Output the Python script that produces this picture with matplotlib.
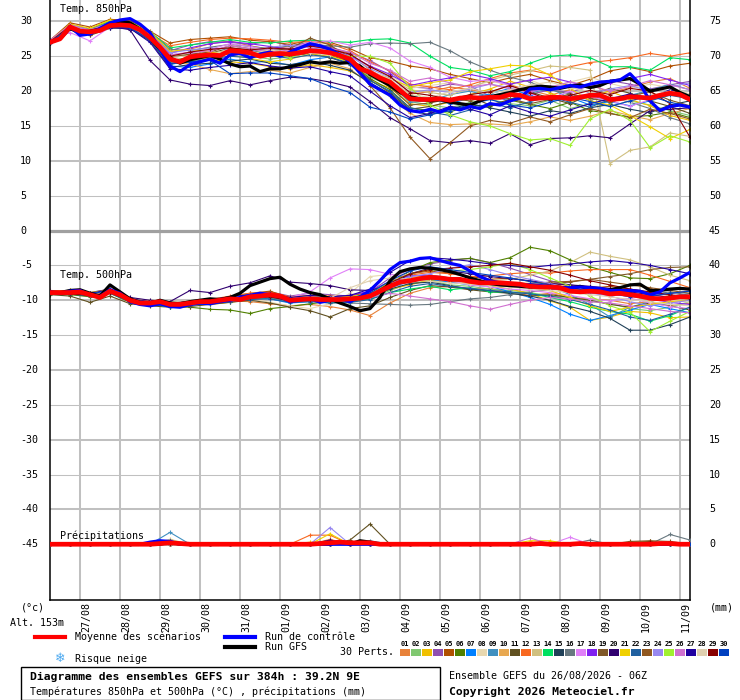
import matplotlib
matplotlib.use("Agg")
import matplotlib.pyplot as plt
from matplotlib.lines import Line2D
from matplotlib.patches import Rectangle
from matplotlib.transforms import blended_transform_factory

plt.rcParams['font.family'] = ['DejaVu Sans Mono', 'DejaVu Sans']
plt.rcParams['font.size'] = 7.2

# ---------------- data ----------------
hours6 = list(range(0, 385, 6))      # 65 steps (mean / control / GFS)
hours12 = list(range(0, 385, 12))    # 33 steps (30 perturbations)

date_hours = [18, 42, 66, 90, 114, 138, 162, 186, 210, 234, 258, 282, 306, 330, 354, 378]
date_labels = ['27/08', '28/08', '29/08', '30/08', '31/08', '01/09', '02/09', '03/09',
               '04/09', '05/09', '06/09', '07/09', '08/09', '09/09', '10/09', '11/09']
left_ticks = [30, 25, 20, 15, 10, 5, 0, -5, -10, -15, -20, -25, -30, -35, -40, -45]
right_ticks = [75, 70, 65, 60, 55, 50, 45, 40, 35, 30, 25, 20, 15, 10, 5, 0]

pert_labels = ['01', '02', '03', '04', '05', '06', '07', '08', '09', '10',
               '11', '12', '13', '14', '15', '16', '17', '18', '19', '20',
               '21', '22', '23', '24', '25', '26', '27', '28', '29', '30']
pert_colors = ['#e8823a', '#80c870', '#f0c000', '#9050b0', '#b05000', '#508000',
               '#0080ff', '#e8d8b0', '#4090c0', '#e8a850', '#605020', '#f86820',
               '#d0c080', '#00e060', '#204058', '#687880', '#e080f8', '#8020f0',
               '#805828', '#300070', '#f0d000', '#2060a0', '#905820', '#9888f0',
               '#a0f030', '#d070d0', '#2000a0', '#e0d0b0', '#880000', '#0040c0']

# Temperature 850 hPa
t850_mean = [27.0, 27.5, 29.2, 28.6, 28.5, 28.7, 29.4, 29.5, 29.4, 28.8, 27.7, 26.3,
             24.6, 24.2, 24.9, 25.1, 25.2, 25.1, 25.8, 25.7, 25.5, 25.0, 25.3, 25.4,
             25.3, 25.5, 25.8, 25.7, 25.5, 25.1, 24.6, 23.2, 22.7, 21.9, 21.3, 20.1,
             18.9, 18.8, 18.8, 18.9, 18.7, 19.0, 19.1, 19.0, 19.1, 19.1, 19.5, 19.4,
             18.9, 19.0, 19.1, 19.1, 18.9, 19.1, 19.4, 19.4, 18.8, 18.9, 19.2, 19.1,
             19.0, 19.4, 19.7, 19.5, 18.8]
t850_ctrl = [27.0, 27.6, 29.3, 28.0, 28.2, 29.0, 29.8, 30.2, 30.4, 29.6, 28.4, 26.0,
             23.6, 22.8, 23.8, 24.2, 24.6, 24.0, 25.2, 25.4, 24.8, 25.3, 25.6, 25.0,
             25.6, 26.2, 26.8, 26.5, 26.0, 25.2, 24.2, 22.6, 21.0, 20.2, 19.4, 18.0,
             17.2, 17.0, 17.4, 17.0, 17.6, 17.3, 17.8, 17.5, 18.2, 18.0, 18.6, 19.0,
             20.3, 20.4, 20.2, 20.5, 20.8, 20.6, 21.0, 21.3, 21.4, 21.6, 22.5, 21.0,
             18.6, 17.2, 17.8, 18.0, 17.7]
t850_gfs = [27.0, 27.5, 29.0, 28.3, 28.6, 28.9, 29.6, 30.0, 29.8, 28.9, 27.6, 26.0,
            24.8, 24.0, 24.5, 24.8, 25.1, 24.6, 23.9, 23.5, 23.6, 22.8, 23.2, 23.2,
            23.5, 23.8, 24.2, 24.0, 24.2, 24.0, 24.1, 23.6, 22.4, 21.6, 20.8, 19.8,
            19.2, 18.9, 18.6, 18.8, 18.4, 18.2, 18.0, 18.6, 19.2, 19.5, 19.8, 20.2,
            20.5, 20.7, 20.6, 20.4, 20.7, 20.9, 20.5, 20.8, 21.4, 21.6, 21.8, 21.0,
            20.0, 20.3, 20.6, 19.8, 19.2]
t850_perts = [
    [27.2, 29.4, 28.8, 29.8, 29.6, 28.2, 25.6, 26.0, 26.8, 27.2, 26.5, 26.0, 26.4, 26.9, 26.2, 25.4, 23.0, 21.5, 19.6, 19.9, 20.6, 20.2, 19.8, 20.9, 20.1, 19.4, 20.2, 21.0, 19.8, 20.5, 21.3, 21.8, 20.4],
    [27.0, 29.0, 28.2, 29.3, 29.2, 27.4, 24.0, 24.3, 24.8, 25.5, 25.0, 24.6, 24.9, 25.5, 25.3, 24.3, 22.0, 20.8, 18.5, 18.0, 17.6, 18.4, 18.8, 18.2, 17.9, 18.7, 17.5, 18.2, 17.8, 18.6, 18.0, 17.2, 16.5],
    [27.1, 29.6, 28.9, 30.1, 29.8, 28.4, 25.3, 25.0, 24.5, 24.2, 24.0, 23.5, 23.2, 23.8, 23.4, 22.9, 21.4, 20.5, 18.2, 17.8, 18.4, 19.5, 20.3, 21.4, 20.6, 19.8, 18.5, 19.2, 20.0, 18.8, 17.9, 16.5, 15.8],
    [26.9, 29.1, 28.6, 29.6, 29.7, 28.0, 25.8, 26.6, 27.1, 27.0, 26.7, 27.2, 26.5, 27.0, 26.3, 25.5, 24.4, 22.8, 20.6, 20.4, 21.0, 20.7, 19.3, 18.6, 19.5, 20.2, 19.8, 20.8, 21.5, 21.0, 20.3, 20.9, 21.4],
    [27.3, 29.8, 29.2, 30.3, 30.1, 28.6, 26.9, 27.4, 27.6, 27.8, 27.3, 27.1, 26.7, 27.3, 27.0, 26.1, 24.8, 24.3, 23.6, 23.2, 22.4, 21.8, 21.2, 21.9, 22.4, 21.5, 20.8, 21.7, 22.9, 23.4, 22.8, 23.6, 24.0],
    [27.0, 29.3, 28.3, 29.5, 29.5, 27.8, 24.4, 24.8, 25.0, 25.8, 25.4, 25.8, 25.6, 26.0, 25.2, 24.1, 21.8, 20.2, 17.6, 17.2, 17.0, 18.0, 17.8, 18.7, 18.1, 17.5, 18.4, 17.2, 16.8, 16.3, 16.5, 17.0, 16.2],
    [27.2, 29.2, 28.4, 29.7, 29.3, 27.5, 23.6, 23.4, 23.9, 24.6, 24.1, 24.3, 23.7, 24.5, 24.9, 24.0, 22.4, 21.0, 19.2, 18.9, 18.2, 19.0, 19.6, 20.4, 19.4, 18.6, 19.1, 18.0, 18.5, 17.9, 18.6, 19.8, 18.8],
    [27.0, 29.0, 28.7, 29.4, 29.2, 27.6, 25.0, 25.5, 25.9, 26.3, 25.7, 25.2, 25.8, 26.4, 25.9, 25.0, 23.4, 22.3, 20.4, 20.8, 21.2, 20.6, 21.4, 20.9, 21.6, 20.5, 21.3, 22.0, 21.1, 20.4, 21.0, 20.5, 19.6],
    [26.9, 29.4, 28.2, 29.2, 29.0, 27.3, 23.8, 24.4, 25.1, 25.6, 25.9, 25.3, 25.0, 25.6, 25.8, 24.7, 22.6, 21.0, 18.4, 18.6, 19.5, 20.0, 19.2, 18.8, 19.7, 20.4, 19.0, 19.6, 18.3, 19.4, 20.1, 21.0, 20.2],
    [27.1, 29.3, 28.5, 29.5, 29.4, 27.9, 24.2, 23.9, 23.1, 22.5, 22.8, 23.0, 22.6, 23.4, 24.0, 23.2, 21.0, 19.3, 16.8, 15.5, 15.2, 15.3, 15.3, 15.1, 15.6, 16.3, 15.8, 16.4, 17.2, 16.5, 15.9, 16.8, 17.5],
    [27.0, 29.1, 28.0, 29.0, 29.2, 27.5, 24.8, 25.2, 25.4, 26.2, 25.9, 25.5, 25.1, 25.4, 24.8, 23.9, 21.6, 19.8, 17.4, 17.8, 18.5, 19.2, 18.0, 18.8, 19.9, 19.0, 18.2, 19.5, 20.4, 19.7, 18.6, 17.8, 16.8],
    [27.2, 29.5, 28.7, 29.9, 29.8, 28.3, 26.5, 27.0, 27.4, 27.6, 27.5, 27.3, 27.0, 27.1, 26.8, 25.8, 24.2, 22.9, 21.0, 20.6, 20.2, 20.9, 21.8, 22.6, 23.0, 22.4, 23.5, 24.1, 24.4, 24.8, 25.4, 25.0, 25.5],
    [27.0, 29.2, 28.6, 29.3, 29.3, 27.6, 24.5, 24.6, 25.4, 25.9, 25.6, 25.1, 25.4, 25.8, 25.3, 24.5, 22.8, 21.9, 20.2, 19.8, 19.4, 20.5, 21.6, 22.3, 22.9, 23.6, 23.4, 23.0, 9.6, 11.5, 12.0, 14.0, 13.5],
    [27.1, 29.5, 28.9, 30.0, 29.9, 28.5, 26.2, 26.6, 27.0, 27.4, 27.0, 26.9, 27.2, 27.3, 27.1, 27.0, 27.4, 27.5, 26.9, 25.0, 23.4, 23.0, 22.2, 22.8, 24.0, 25.0, 25.2, 24.8, 23.5, 23.5, 23.0, 24.8, 24.5],
    [26.9, 29.0, 28.3, 29.1, 29.0, 27.2, 23.4, 23.8, 24.0, 24.3, 24.6, 24.0, 23.8, 24.2, 23.7, 23.0, 21.2, 19.6, 17.2, 16.6, 17.4, 18.2, 17.6, 17.0, 16.4, 17.2, 16.8, 17.6, 18.1, 17.4, 16.9, 18.0, 18.6],
    [27.0, 29.4, 28.8, 29.9, 29.7, 28.4, 26.0, 25.8, 26.3, 26.7, 26.4, 26.1, 26.5, 26.7, 26.5, 26.3, 26.8, 26.9, 26.8, 27.0, 25.8, 24.2, 23.0, 22.0, 21.3, 20.2, 19.6, 18.7, 19.2, 18.4, 17.5, 16.2, 15.3],
    [27.4, 28.4, 27.2, 29.2, 29.0, 27.6, 25.2, 25.6, 26.0, 26.8, 26.4, 25.9, 26.2, 27.0, 27.2, 26.6, 27.0, 26.2, 24.3, 23.4, 22.0, 21.4, 21.6, 20.8, 19.6, 18.9, 20.0, 19.2, 18.6, 17.8, 18.8, 19.6, 19.0],
    [27.1, 29.3, 28.6, 29.6, 29.5, 27.9, 25.4, 26.2, 26.8, 27.1, 26.8, 26.4, 26.0, 26.6, 26.0, 25.1, 23.6, 22.4, 20.8, 21.4, 21.9, 22.4, 21.8, 21.0, 21.6, 22.0, 21.3, 20.6, 21.2, 21.8, 22.4, 21.6, 20.8],
    [26.9, 29.1, 28.4, 29.4, 29.3, 27.7, 24.9, 25.3, 25.6, 26.5, 26.1, 25.8, 26.1, 27.6, 26.6, 24.8, 22.3, 20.6, 18.0, 18.3, 18.9, 18.6, 19.4, 18.9, 18.2, 18.8, 19.6, 19.0, 18.4, 19.3, 19.9, 18.7, 17.9],
    [27.0, 29.2, 28.4, 29.3, 28.8, 24.4, 21.6, 21.0, 20.8, 21.5, 20.9, 21.5, 22.0, 21.8, 21.3, 20.6, 18.5, 16.2, 14.6, 12.9, 12.6, 12.9, 12.5, 13.9, 12.3, 13.2, 13.3, 13.6, 13.3, 15.3, 17.2, 17.4, 17.6],
    [27.2, 29.6, 29.0, 30.2, 29.9, 28.5, 25.7, 26.0, 25.6, 25.2, 24.7, 24.2, 24.6, 25.3, 25.0, 24.2, 22.5, 21.8, 20.6, 21.2, 21.6, 22.8, 23.2, 23.7, 23.6, 22.3, 20.4, 18.6, 18.0, 16.5, 14.9, 13.2, 14.5],
    [27.0, 29.2, 28.3, 29.2, 29.1, 27.3, 23.9, 24.2, 24.6, 25.0, 24.8, 25.1, 24.7, 25.2, 24.9, 23.8, 21.5, 20.0, 17.6, 17.0, 16.5, 17.3, 18.3, 17.6, 18.5, 19.2, 18.4, 17.7, 18.8, 19.5, 18.6, 19.4, 18.9],
    [27.0, 29.0, 28.1, 29.2, 29.1, 27.4, 24.3, 24.7, 24.9, 25.4, 25.2, 25.0, 25.3, 25.9, 25.4, 24.2, 20.8, 17.6, 13.4, 10.3, 12.6, 15.0, 15.8, 15.4, 16.3, 15.6, 16.6, 17.5, 16.8, 16.2, 17.4, 16.8, 16.0],
    [27.1, 29.4, 28.7, 29.7, 29.6, 28.1, 25.5, 25.9, 26.2, 26.0, 25.7, 26.3, 26.6, 26.2, 25.9, 25.0, 23.2, 22.0, 19.8, 20.2, 19.8, 20.3, 21.0, 20.5, 19.8, 20.6, 20.9, 19.7, 20.3, 20.8, 20.0, 20.6, 21.2],
    [27.1, 29.3, 28.5, 29.5, 29.5, 27.8, 24.4, 24.6, 24.9, 25.5, 25.2, 25.4, 24.8, 25.7, 25.5, 25.0, 25.0, 24.0, 20.5, 18.0, 16.6, 15.6, 15.0, 13.9, 13.0, 13.2, 12.2, 16.0, 17.4, 15.8, 11.9, 13.6, 12.7],
    [27.3, 29.5, 28.8, 29.8, 29.7, 28.0, 25.2, 25.5, 25.8, 26.5, 26.1, 25.6, 25.9, 26.4, 26.1, 25.6, 24.0, 23.0, 21.4, 21.9, 21.2, 20.6, 21.0, 20.3, 19.9, 20.6, 21.3, 20.8, 20.0, 20.7, 21.5, 20.9, 20.2],
    [26.9, 29.0, 28.2, 29.1, 29.0, 27.0, 23.2, 23.0, 23.4, 23.7, 24.1, 23.6, 23.3, 23.5, 22.8, 22.2, 20.0, 17.9, 16.2, 16.8, 17.8, 17.4, 16.6, 17.9, 17.0, 16.4, 17.3, 18.2, 18.9, 19.6, 19.0, 20.2, 19.4],
    [27.0, 29.2, 28.6, 29.4, 29.3, 27.6, 24.8, 25.1, 25.3, 25.7, 25.4, 25.9, 25.5, 25.5, 25.2, 24.6, 22.9, 21.7, 19.5, 19.1, 19.9, 20.4, 19.7, 20.2, 20.9, 21.3, 20.5, 19.9, 19.2, 18.5, 19.4, 20.0, 19.5],
    [27.1, 29.3, 28.4, 29.6, 29.5, 27.8, 25.0, 25.6, 26.0, 26.2, 25.9, 26.2, 26.0, 26.5, 26.0, 25.3, 23.5, 22.1, 19.8, 19.4, 18.8, 19.5, 19.9, 20.8, 19.8, 18.7, 19.4, 20.1, 19.5, 20.4, 20.0, 18.2, 13.4],
    [27.0, 29.1, 28.3, 29.3, 29.1, 27.4, 24.0, 24.2, 24.4, 22.5, 22.6, 22.6, 22.2, 21.8, 20.7, 19.8, 17.7, 17.0, 16.0, 16.6, 17.2, 18.1, 18.8, 18.0, 17.6, 18.4, 19.1, 18.5, 17.8, 18.6, 19.3, 18.4, 17.8],
]

# Temperature 500 hPa
t500_mean = [-8.9, -8.9, -8.9, -8.8, -9.2, -9.6, -8.7, -9.2, -10.0, -10.4, -10.4, -10.2,
             -10.6, -10.6, -10.4, -10.2, -10.2, -10.0, -9.8, -9.9, -9.5, -9.4, -9.2, -9.4,
             -10.0, -9.9, -9.8, -9.9, -9.9, -9.9, -9.8, -9.7, -9.4, -8.7, -8.0, -7.4,
             -7.2, -6.9, -6.7, -6.8, -7.0, -7.0, -7.3, -7.5, -7.5, -7.5, -7.6, -7.7,
             -8.0, -8.1, -8.1, -8.2, -8.7, -8.8, -8.7, -8.8, -9.1, -9.0, -9.2, -9.4,
             -9.7, -9.8, -9.7, -9.5, -9.5]
t500_ctrl = [-8.8, -9.0, -8.7, -8.6, -9.3, -9.5, -8.5, -9.0, -10.2, -10.6, -10.8, -10.5,
             -10.9, -11.0, -10.6, -10.4, -10.5, -10.2, -10.0, -9.6, -9.3, -9.0, -9.2, -9.5,
             -10.2, -10.0, -9.7, -10.3, -10.0, -9.8, -10.2, -9.5, -8.6, -7.2, -5.6, -4.6,
             -4.4, -4.0, -3.9, -4.3, -4.7, -5.0, -5.8, -6.6, -7.2, -7.5, -7.6, -7.8,
             -7.8, -7.9, -8.0, -8.2, -8.2, -8.1, -8.2, -8.3, -8.6, -8.6, -8.6, -8.7,
             -9.2, -8.8, -7.5, -6.8, -6.0]
t500_gfs = [-8.8, -8.9, -8.6, -8.5, -9.0, -9.4, -7.8, -8.8, -9.8, -10.3, -10.5, -10.0,
            -10.4, -10.5, -10.2, -10.0, -9.8, -9.9, -9.6, -9.0, -7.9, -7.4, -6.9, -6.7,
            -7.7, -8.4, -8.9, -9.2, -9.8, -10.4, -10.9, -11.5, -11.2, -9.6, -7.2, -5.9,
            -5.5, -5.3, -5.4, -5.6, -5.9, -6.3, -6.8, -7.2, -7.6, -7.8, -7.9, -8.0,
            -8.1, -8.1, -8.0, -8.2, -8.3, -8.0, -8.4, -8.6, -8.5, -8.2, -7.8, -7.7,
            -8.6, -8.6, -8.4, -8.3, -8.4]
t500_perts = [
    [-9.0, -8.8, -9.4, -8.9, -10.2, -10.6, -10.8, -10.6, -10.4, -10.1, -10.2, -10.5, -10.8, -10.6, -10.9, -11.4, -12.2, -10.4, -9.0, -8.2, -8.0, -8.4, -8.3, -8.9, -9.3, -9.0, -9.6, -9.8, -10.0, -10.5, -10.2, -10.8, -10.4],
    [-8.9, -9.0, -9.3, -8.8, -9.9, -10.3, -10.5, -10.3, -10.0, -9.6, -9.4, -9.5, -10.2, -10.1, -10.4, -10.3, -9.8, -8.6, -7.6, -7.2, -7.8, -8.0, -8.4, -8.6, -8.9, -9.4, -9.6, -10.2, -10.4, -11.2, -11.5, -11.0, -10.2],
    [-8.8, -8.7, -9.0, -8.5, -9.8, -10.2, -10.4, -10.5, -10.6, -10.3, -9.9, -9.6, -9.9, -10.1, -10.0, -9.7, -9.2, -8.4, -7.8, -7.1, -7.4, -7.6, -7.9, -8.4, -9.0, -10.1, -11.0, -12.9, -12.4, -11.6, -11.8, -12.5, -12.4],
    [-9.0, -9.1, -9.2, -8.6, -10.1, -10.5, -10.8, -10.6, -10.2, -9.7, -9.2, -8.8, -9.4, -9.0, -9.2, -9.4, -8.8, -6.8, -5.6, -4.8, -4.3, -4.0, -4.6, -5.4, -6.3, -7.2, -7.8, -8.2, -8.6, -9.0, -9.4, -9.1, -8.6],
    [-8.9, -8.8, -9.1, -8.7, -10.0, -10.4, -10.7, -10.4, -10.0, -9.5, -9.0, -8.7, -9.6, -9.5, -9.7, -9.3, -9.0, -7.4, -6.2, -5.8, -6.1, -6.6, -7.0, -6.8, -7.3, -7.6, -7.9, -8.3, -8.0, -8.4, -8.9, -9.3, -9.8],
    [-9.1, -9.2, -9.5, -9.0, -10.3, -10.6, -10.9, -11.0, -11.3, -11.4, -11.9, -11.2, -10.9, -10.5, -10.2, -10.0, -9.4, -7.6, -5.8, -4.6, -4.2, -4.0, -4.6, -3.9, -2.4, -2.9, -4.2, -5.2, -6.0, -6.8, -6.9, -6.2, -5.0],
    [-8.8, -8.9, -9.1, -8.6, -9.9, -10.2, -10.5, -10.3, -10.0, -9.9, -9.6, -9.8, -10.4, -10.2, -10.0, -10.1, -9.6, -8.2, -7.3, -7.0, -7.4, -7.8, -8.0, -8.8, -9.6, -10.6, -12.0, -12.9, -12.2, -11.4, -10.6, -11.2, -11.8],
    [-8.7, -8.6, -9.0, -8.4, -9.7, -10.0, -10.2, -10.1, -9.8, -9.6, -9.7, -10.3, -10.8, -11.2, -10.5, -9.0, -6.6, -6.3, -6.4, -6.8, -6.9, -7.2, -7.6, -7.4, -7.8, -8.2, -8.4, -8.2, -8.8, -9.2, -9.6, -10.0, -10.3],
    [-9.0, -8.9, -9.3, -8.8, -10.1, -10.5, -10.8, -10.5, -10.2, -9.9, -9.3, -9.1, -9.8, -9.6, -9.9, -9.6, -9.0, -7.8, -6.9, -6.6, -7.0, -7.4, -7.7, -7.9, -8.2, -8.0, -9.2, -10.6, -12.4, -11.0, -10.2, -9.4, -9.0],
    [-8.8, -8.9, -9.1, -8.7, -10.0, -10.4, -10.6, -10.5, -10.3, -9.9, -9.6, -9.4, -10.0, -9.9, -10.1, -9.9, -9.5, -7.9, -6.8, -6.4, -6.9, -7.3, -7.4, -7.5, -8.0, -8.3, -8.9, -8.6, -9.2, -9.4, -10.0, -9.6, -9.9],
    [-9.2, -9.4, -10.3, -9.4, -10.5, -10.8, -11.0, -10.9, -10.6, -10.3, -10.0, -10.4, -11.0, -11.5, -12.4, -11.2, -10.8, -9.6, -8.6, -7.9, -8.1, -8.5, -8.8, -9.0, -9.4, -9.2, -9.6, -10.0, -10.6, -11.0, -10.4, -10.8, -11.4],
    [-8.9, -9.0, -9.2, -8.8, -10.0, -10.3, -10.5, -10.2, -9.9, -9.4, -9.0, -8.9, -9.5, -9.3, -9.4, -9.5, -9.1, -7.4, -6.4, -6.0, -6.2, -6.6, -6.5, -6.2, -6.0, -6.1, -5.8, -5.6, -5.6, -5.6, -6.4, -7.3, -8.2],
    [-8.9, -8.8, -9.1, -8.7, -10.0, -10.4, -10.6, -10.4, -10.1, -9.7, -9.4, -9.2, -9.8, -9.6, -9.8, -9.6, -9.2, -7.8, -7.0, -6.6, -6.8, -7.1, -7.2, -7.0, -6.4, -5.8, -4.6, -3.1, -3.7, -4.2, -5.2, -6.4, -7.2],
    [-9.0, -9.1, -9.3, -8.9, -10.2, -10.6, -10.9, -10.7, -10.4, -10.1, -9.8, -9.6, -10.1, -10.0, -10.3, -10.2, -9.8, -8.9, -8.4, -8.0, -8.5, -8.2, -8.8, -8.9, -9.0, -9.6, -10.2, -11.0, -11.6, -12.0, -13.0, -12.2, -11.0],
    [-8.9, -9.0, -9.2, -8.8, -10.0, -10.4, -10.6, -10.5, -10.3, -10.0, -9.7, -9.5, -10.0, -9.8, -10.0, -9.9, -9.6, -8.4, -7.6, -7.4, -7.9, -8.4, -8.6, -9.0, -9.4, -10.0, -10.9, -11.6, -12.6, -14.3, -14.3, -13.5, -12.4],
    [-9.0, -8.9, -9.3, -8.9, -10.1, -10.5, -10.8, -10.6, -10.4, -10.0, -9.7, -9.6, -10.2, -10.0, -10.2, -10.4, -10.5, -10.6, -10.7, -10.6, -10.2, -9.8, -9.6, -9.2, -8.8, -8.5, -8.2, -8.6, -8.9, -9.4, -9.2, -8.8, -9.3],
    [-8.6, -8.7, -9.0, -8.5, -9.8, -10.2, -10.4, -10.2, -10.0, -9.7, -9.6, -9.4, -9.6, -8.8, -6.8, -5.5, -5.6, -6.3, -6.6, -6.9, -7.2, -7.8, -8.1, -8.4, -8.6, -8.9, -9.3, -9.8, -10.1, -9.7, -10.4, -10.9, -11.2],
    [-8.8, -8.9, -9.1, -8.6, -9.9, -10.3, -10.5, -10.3, -10.1, -9.8, -9.4, -9.1, -9.7, -9.4, -9.6, -9.3, -8.7, -7.3, -6.5, -6.4, -6.8, -7.0, -7.3, -7.7, -8.0, -8.3, -8.6, -9.0, -9.2, -9.4, -9.8, -10.3, -10.6],
    [-8.9, -9.0, -9.2, -8.8, -10.0, -10.4, -10.6, -10.4, -10.1, -9.8, -9.5, -9.3, -9.9, -9.7, -9.9, -9.8, -9.3, -8.0, -7.1, -6.8, -7.1, -7.3, -7.5, -7.6, -7.8, -7.6, -7.4, -7.0, -6.6, -6.2, -5.6, -5.3, -5.2],
    [-8.8, -8.6, -8.9, -8.4, -9.6, -10.0, -10.2, -8.6, -8.9, -8.0, -7.5, -6.5, -7.4, -7.6, -7.9, -8.5, -8.6, -7.8, -6.2, -5.4, -5.8, -6.2, -6.6, -6.9, -7.2, -7.6, -7.8, -8.0, -8.3, -8.8, -9.2, -9.6, -9.8],
    [-8.7, -8.6, -8.9, -8.5, -9.8, -10.2, -10.4, -10.2, -9.9, -9.5, -9.2, -9.0, -9.6, -9.4, -9.6, -9.5, -9.0, -7.6, -6.8, -6.5, -6.8, -7.1, -7.4, -7.6, -8.0, -8.6, -9.6, -10.8, -11.6, -11.0, -10.6, -10.2, -10.0],
    [-9.0, -9.1, -9.4, -9.0, -10.2, -10.6, -10.9, -10.7, -10.5, -10.2, -9.9, -9.8, -10.3, -10.2, -10.4, -10.3, -9.9, -8.9, -8.0, -7.6, -8.0, -8.3, -8.6, -8.8, -9.1, -9.4, -9.9, -10.6, -11.4, -12.4, -12.9, -12.0, -11.0],
    [-8.9, -9.0, -9.2, -8.8, -10.1, -10.5, -10.7, -10.5, -10.3, -9.9, -9.6, -9.4, -10.0, -9.8, -10.0, -9.8, -9.4, -8.0, -7.2, -6.9, -7.2, -7.4, -7.6, -7.5, -7.6, -7.4, -7.3, -7.0, -7.4, -7.8, -8.2, -8.6, -9.0],
    [-8.8, -8.9, -9.1, -8.6, -9.9, -10.3, -10.5, -10.3, -10.0, -9.7, -9.4, -9.1, -9.7, -9.5, -9.7, -9.6, -9.1, -7.6, -6.6, -6.2, -5.4, -4.9, -5.6, -6.4, -7.0, -7.6, -8.3, -8.9, -9.4, -10.2, -10.8, -10.4, -10.0],
    [-8.9, -9.0, -9.2, -8.7, -10.0, -10.4, -10.6, -10.4, -10.2, -9.8, -9.5, -9.3, -9.9, -9.7, -9.9, -9.6, -9.0, -7.4, -6.2, -5.6, -5.8, -5.6, -5.2, -4.7, -5.6, -6.8, -8.0, -9.4, -10.8, -11.7, -14.5, -13.0, -11.6],
    [-8.9, -9.0, -9.2, -8.8, -10.0, -10.4, -10.6, -10.4, -10.1, -9.8, -9.5, -9.4, -10.0, -9.8, -10.0, -9.8, -9.6, -9.0, -9.4, -9.8, -10.2, -10.8, -11.3, -10.6, -10.0, -9.6, -9.8, -10.2, -10.4, -10.8, -11.2, -11.6, -11.8],
    [-8.8, -8.8, -9.0, -8.5, -9.8, -10.2, -10.4, -10.2, -9.9, -9.5, -9.2, -9.0, -9.6, -9.3, -9.5, -9.3, -8.4, -6.0, -4.3, -3.9, -4.1, -4.4, -4.8, -5.0, -5.3, -5.0, -4.8, -4.5, -4.3, -4.6, -5.0, -5.6, -6.2],
    [-8.9, -8.9, -9.2, -8.7, -10.0, -10.3, -10.5, -10.3, -10.1, -9.7, -9.4, -9.2, -9.9, -9.7, -9.7, -8.2, -7.2, -6.8, -7.0, -7.3, -7.5, -7.7, -7.9, -8.1, -8.4, -8.6, -8.9, -9.2, -9.5, -9.9, -10.2, -10.6, -10.8],
    [-9.0, -9.1, -9.3, -8.9, -10.1, -10.5, -10.7, -10.5, -10.3, -10.0, -9.7, -9.5, -10.1, -9.9, -10.1, -9.9, -9.3, -7.5, -6.2, -5.6, -5.4, -5.2, -5.0, -4.7, -5.2, -5.7, -6.4, -7.2, -7.8, -8.4, -8.8, -9.2, -9.6],
    [-8.8, -8.9, -9.1, -8.6, -9.9, -10.3, -10.6, -10.4, -10.1, -9.8, -9.5, -9.2, -9.8, -9.6, -9.8, -9.7, -9.0, -7.2, -5.8, -5.2, -5.6, -6.0, -6.4, -6.8, -7.3, -7.8, -8.2, -8.7, -9.0, -9.5, -9.4, -9.0, -8.7],
]

# Precipitation (mm, right axis)
precip_mean = [0, 0, 0, 0, 0, 0,  0, 0, 0, 0, 0, 0.1,  0.2, 0.1, 0, 0, 0, 0,
               0, 0, 0, 0, 0, 0,  0, 0, 0, 0.1, 0.2, 0.3,  0.2, 0.2, 0.2, 0, 0, 0,
               0, 0, 0, 0, 0, 0,  0, 0, 0, 0, 0, 0,  0, 0.1, 0, 0, 0, 0.1,
               0, 0, 0, 0, 0, 0,  0, 0.1, 0.1, 0, 0]
precip_ctrl = [0, 0, 0, 0, 0, 0,  0, 0, 0, 0, 0.3, 0.5,  0.4, 0, 0, 0, 0, 0,
               0, 0, 0, 0, 0, 0,  0, 0, 0, 0, 0, 0,  0, 0, 0, 0, 0, 0,
               0, 0, 0, 0, 0, 0,  0, 0, 0, 0, 0, 0,  0, 0, 0, 0, 0, 0,
               0, 0, 0, 0, 0, 0,  0, 0, 0, 0, 0]
precip_gfs = [0, 0, 0, 0, 0, 0,  0, 0, 0, 0, 0, 0,  0.3, 0, 0, 0, 0, 0,
              0, 0, 0, 0, 0, 0,  0, 0, 0, 0, 0, 0.4,  0, 0.5, 0.3, 0, 0, 0,
              0, 0, 0, 0, 0, 0,  0, 0, 0, 0, 0, 0,  0, 0, 0, 0, 0, 0,
              0, 0, 0, 0, 0, 0,  0, 0, 0, 0, 0]
precip_perts = [
    [0, 0, 0, 0, 0, 0, 0, 0,  0, 0, 0, 0, 0, 0, 0.7, 0,  0, 0, 0, 0, 0, 0, 0, 0,  0, 0, 0, 0, 0, 0, 0, 0, 0],
    [0, 0, 0, 0, 0, 0, 0, 0,  0, 0, 0, 0, 0, 0, 0, 0,  0, 0, 0, 0, 0, 0, 0, 0,  0, 0, 0, 0, 0, 0, 0, 0, 0],
    [0, 0, 0, 0, 0, 0, 0, 0,  0, 0, 0, 0, 0, 0.3, 0, 0,  0, 0, 0, 0, 0, 0, 0, 0,  0, 0, 0, 0, 0, 0, 0, 0, 0],
    [0, 0, 0, 0, 0, 0, 0, 0,  0, 0, 0, 0, 0, 0, 0, 0,  0, 0, 0, 0, 0, 0, 0, 0,  0, 0, 0, 0, 0, 0, 0, 0, 0],
    [0, 0, 0, 0, 0, 0, 0, 0,  0, 0, 0, 0, 0, 0, 0, 0,  0, 0, 0, 0, 0, 0, 0, 0,  0, 0, 0, 0, 0, 0, 0, 0, 0],
    [0, 0, 0, 0, 0, 0, 0, 0,  0, 0, 0, 0, 0, 0, 0, 0,  0, 0, 0, 0, 0, 0, 0, 0,  0, 0, 0, 0, 0, 0, 0.4, 0, 0],
    [0, 0, 0, 0, 0, 0, 0, 0,  0, 0, 0, 0, 0, 0, 0, 0,  0, 0, 0, 0, 0, 0, 0, 0,  0, 0, 0, 0, 0, 0, 0, 0, 0],
    [0, 0, 0, 0, 0, 0, 0, 0,  0, 0, 0, 0, 0, 0, 0, 0,  0, 0, 0, 0, 0, 0, 0, 0,  0, 0, 0, 0, 0, 0, 0, 0, 0],
    [0, 0, 0, 0, 0, 0, 1.7, 0,  0, 0, 0, 0, 0, 0, 0, 0,  0.5, 0, 0, 0, 0, 0, 0, 0,  0, 0, 0, 0, 0, 0, 0, 0, 0],
    [0, 0, 0, 0, 0, 0, 0, 0,  0, 0, 0, 0, 0, 0, 0.3, 0,  0, 0, 0, 0, 0, 0, 0, 0,  0, 0, 0, 0, 0, 0, 0, 0, 0],
    [0, 0, 0, 0, 0, 0, 0, 0,  0, 0, 0, 0, 0, 0, 0, 0.6,  2.9, 0, 0, 0, 0, 0, 0, 0,  0, 0, 0, 0, 0, 0, 0, 0, 0],
    [0, 0, 0, 0, 0, 0, 0, 0,  0, 0, 0, 0, 0, 1.3, 1.3, 0,  0, 0, 0, 0, 0, 0, 0, 0,  0, 0, 0, 0, 0, 0, 0, 0, 0],
    [0, 0, 0, 0, 0, 0, 0.7, 0,  0, 0, 0, 0, 0, 0, 0, 0,  0, 0, 0, 0, 0, 0, 0, 0,  0, 0, 0, 0, 0, 0, 0, 0, 0],
    [0, 0, 0, 0, 0, 0, 0, 0,  0, 0, 0, 0, 0, 0, 0, 0,  0, 0, 0, 0, 0, 0, 0, 0,  0, 0, 0, 0, 0, 0, 0, 0, 0],
    [0, 0, 0, 0, 0, 0, 0, 0,  0, 0, 0, 0, 0, 0, 0, 0,  0, 0, 0, 0, 0, 0, 0, 0,  0, 0, 0, 0, 0, 0, 0, 0, 0],
    [0, 0, 0, 0, 0, 0, 0, 0,  0, 0, 0, 0, 0, 0, 0, 0,  0, 0, 0, 0, 0, 0, 0, 0,  0, 0, 0, 0.6, 0, 0, 0, 1.4, 0.6],
    [0, 0, 0, 0, 0, 0, 0, 0,  0, 0, 0, 0, 0, 0, 0, 0,  0, 0, 0, 0, 0, 0, 0, 0,  0, 0, 1.0, 0, 0, 0, 0, 0, 0],
    [0, 0, 0, 0, 0, 0, 0, 0,  0, 0, 0, 0, 0, 0, 0, 0,  0, 0, 0, 0, 0, 0, 0, 0,  0, 0, 0, 0, 0, 0, 0, 0, 0],
    [0, 0, 0, 0, 0, 0, 0, 0,  0, 0, 0, 0, 0, 0, 0, 0,  0, 0, 0, 0, 0, 0, 0, 0,  0, 0, 0, 0, 0, 0.4, 0.5, 0.4, 0],
    [0, 0, 0, 0, 0, 0, 0.4, 0,  0, 0, 0, 0, 0, 0, 0.6, 0,  0, 0, 0, 0, 0, 0, 0, 0,  0, 0, 0, 0, 0, 0, 0, 0, 0],
    [0, 0, 0, 0, 0, 0, 0, 0,  0, 0, 0, 0, 0, 0, 1.5, 0,  0, 0, 0, 0, 0, 0, 0, 0,  0.5, 0.5, 0, 0, 0, 0, 0, 0, 0],
    [0, 0, 0, 0, 0, 0, 0, 0,  0, 0, 0, 0, 0, 0, 0, 0,  0, 0, 0, 0, 0, 0, 0, 0,  0, 0, 0, 0, 0, 0, 0, 0, 0],
    [0, 0, 0, 0, 0, 0, 0, 0,  0, 0, 0, 0, 0, 0, 0, 0,  0, 0, 0, 0, 0, 0, 0, 0,  0, 0, 0, 0, 0, 0.3, 0.4, 0, 0],
    [0, 0, 0, 0, 0, 0, 0, 0,  0, 0, 0, 0, 0, 0, 2.4, 0,  0, 0, 0, 0, 0, 0, 0, 0,  0, 0, 0, 0, 0, 0, 0, 0, 0],
    [0, 0, 0, 0, 0, 0, 0, 0,  0, 0, 0, 0, 0, 0, 0, 0,  0, 0, 0, 0, 0, 0, 0, 0,  0, 0, 0, 0, 0, 0, 0, 0, 0],
    [0, 0, 0, 0, 0, 0, 0, 0,  0, 0, 0, 0, 0, 0, 0, 0,  0, 0, 0, 0, 0, 0, 0, 0,  0.9, 0, 0, 0, 0, 0, 0, 0, 0],
    [0, 0, 0, 0, 0, 0, 0.3, 0,  0, 0, 0, 0, 0, 0, 0, 0,  0, 0, 0, 0, 0, 0, 0, 0,  0, 0, 0, 0, 0, 0, 0, 0, 0],
    [0, 0, 0, 0, 0, 0, 0, 0,  0, 0, 0, 0, 0, 0, 0, 0,  0, 0, 0, 0, 0, 0, 0, 0,  0, 0, 0, 0, 0, 0, 0, 0, 0],
    [0, 0, 0, 0, 0, 0, 0, 0,  0, 0, 0, 0, 0, 0, 0, 0,  0, 0, 0, 0, 0, 0, 0, 0,  0, 0, 0, 0, 0, 0, 0.3, 0, 0],
    [0, 0, 0, 0, 0, 0, 0.5, 0,  0, 0, 0, 0, 0, 0, 0, 0,  0, 0, 0, 0, 0, 0, 0, 0,  0, 0, 0, 0, 0, 0, 0, 0, 0],
]

# ---------------- sanity check on lengths ----------------
bad = []
for name, series, n in [('t850_mean', t850_mean, 65), ('t850_ctrl', t850_ctrl, 65), ('t850_gfs', t850_gfs, 65),
                        ('t500_mean', t500_mean, 65), ('t500_ctrl', t500_ctrl, 65), ('t500_gfs', t500_gfs, 65),
                        ('precip_mean', precip_mean, 65), ('precip_ctrl', precip_ctrl, 65), ('precip_gfs', precip_gfs, 65)]:
    if len(series) != n:
        bad.append((name, len(series)))
for name, group in [('t850', t850_perts), ('t500', t500_perts), ('precip', precip_perts)]:
    for k, s in enumerate(group):
        if len(s) != 33:
            bad.append((name, k + 1, len(s)))
if bad:
    raise ValueError(str(bad))

# ---------------- figure ----------------
W, H = 740, 700
fig = plt.figure(figsize=(W / 100, H / 100), dpi=100)
fig.patch.set_facecolor('white')


def fx(x):
    return x / W


def fy(y):
    return 1 - y / H


AX_L, AX_R, AX_T, AX_B = 50, 690, 0, 600
YMIN, YMAX = -53.0, 33.07
ax = fig.add_axes([fx(AX_L), fy(AX_B), (AX_R - AX_L) / W, (AX_B - AX_T) / H])
ax.set_xlim(0, 384)
ax.set_ylim(YMIN, YMAX)
ax2 = ax.twinx()
ax2.set_ylim(YMIN + 45, YMAX + 45)
ax2.set_xlim(0, 384)
for a in (ax, ax2):
    a.set_xticks([])
    a.set_yticks([])
    for s in a.spines.values():
        s.set_visible(False)
ax.patch.set_facecolor('white')
for side in ('left', 'right', 'bottom'):
    ax.spines[side].set_visible(True)
    ax.spines[side].set_color('black')
    ax.spines[side].set_linewidth(1.1)

# grid
for v in left_ticks:
    if v == 0:
        continue
    ax.axhline(v, color='#c0c0c0', lw=1.45 if v % 10 == 0 else 0.75, zorder=0.5)
ax.axhline(0, color='#a0a0a0', lw=2.3, zorder=0.6)
for h in date_hours:
    ax.axvline(h, color='#c0c0c0', lw=1.45, zorder=0.5)

# perturbation members
for vals, col in zip(t850_perts, pert_colors):
    ax.plot(hours12, vals, color=col, lw=0.8, marker='+', ms=3.2, mew=0.8, zorder=2)
for vals, col in zip(t500_perts, pert_colors):
    ax.plot(hours12, vals, color=col, lw=0.8, marker='+', ms=3.2, mew=0.8, zorder=2)
for vals, col in zip(precip_perts, pert_colors):
    ax2.plot(hours12, vals, color=col, lw=0.8, marker='+', ms=3.2, mew=0.8, zorder=2)

# GFS, control, mean
for a, series in ((ax, t850_gfs), (ax, t500_gfs), (ax2, precip_gfs)):
    a.plot(hours6, series, color='black', lw=2.3, zorder=3)
for a, series in ((ax, t850_ctrl), (ax, t500_ctrl), (ax2, precip_ctrl)):
    a.plot(hours6, series, color='#0000ff', lw=2.3, zorder=4)
for a, series in ((ax, t850_mean), (ax, t500_mean), (ax2, precip_mean)):
    a.plot(hours6, series, color='#ff0000', lw=3.4, zorder=5)

# tick labels
trans_l = blended_transform_factory(fig.transFigure, ax.transData)
for v in left_ticks:
    ax.text(fx(20), v, str(v), transform=trans_l, ha='left', va='center')
trans_r = blended_transform_factory(fig.transFigure, ax2.transData)
for v in right_ticks:
    ax2.text(fx(709), v, str(v), transform=trans_r, ha='left', va='center')
trans_d = blended_transform_factory(ax.transData, fig.transFigure)
for h, lab in zip(date_hours, date_labels):
    ax.text(h + 0.6, fy(602), lab, transform=trans_d, rotation=90, ha='left', va='top')

# panel titles
fig.text(fx(60), fy(8.5), 'Temp. 850hPa', ha='left', va='center')
fig.text(fx(60), fy(275.5), 'Temp. 500hPa', ha='left', va='center')
fig.text(fx(60), fy(535.5), 'Précipitations', ha='left', va='center')

# axis unit labels
fig.text(fx(21), fy(607), '(°c)', ha='left', va='center')
fig.text(fx(710), fy(607), '(mm)', ha='left', va='center')
fig.text(fx(10), fy(622.5), 'Alt. 153m', ha='left', va='center')

# legend
fig.add_artist(Line2D([fx(35), fx(65)], [fy(637), fy(637)], color='#ff0000', lw=3, transform=fig.transFigure))
fig.text(fx(75), fy(637), 'Moyenne des scénarios', ha='left', va='center')
fig.add_artist(Line2D([fx(225), fx(255)], [fy(637), fy(637)], color='#0000ff', lw=3, transform=fig.transFigure))
fig.text(fx(265), fy(637), 'Run de contrôle', ha='left', va='center')
fig.add_artist(Line2D([fx(225), fx(255)], [fy(647), fy(647)], color='black', lw=3, transform=fig.transFigure))
fig.text(fx(265), fy(647), 'Run GFS', ha='left', va='center')
fig.text(fx(60), fy(658), '\u2744', color='#4aa8f0', fontsize=9, family='DejaVu Sans', ha='center', va='center')
fig.text(fx(75), fy(659), 'Risque neige', ha='left', va='center')
fig.text(fx(340), fy(652), '30 Perts.', ha='left', va='center')

for k, (lab, col) in enumerate(zip(pert_labels, pert_colors)):
    x0 = 400 + 11 * k
    fig.add_artist(Rectangle((fx(x0), fy(656)), 10 / W, 7 / H, facecolor=col, edgecolor='none',
                             transform=fig.transFigure))
    fig.text(fx(x0 + 5), fy(643.5), lab, ha='center', va='center', fontsize=5.0, weight='bold')

# bottom info box
fig.add_artist(Rectangle((fx(20.5), fy(699.5)), (440 - 20.5) / W, (699.5 - 667) / H, fill=False,
                         edgecolor='black', lw=1.0, transform=fig.transFigure))
fig.text(fx(30), fy(677), 'Diagramme des ensembles GEFS sur 384h : 39.2N 9E', ha='left', va='center',
         fontsize=8.2, weight='bold')
fig.text(fx(30), fy(692), 'Températures 850hPa et 500hPa (°C) , précipitations (mm)', ha='left', va='center')
fig.text(fx(449), fy(675.5), 'Ensemble GEFS du 26/08/2026 - 06Z', ha='left', va='center')
fig.text(fx(449), fy(692), 'Copyright 2026 Meteociel.fr', ha='left', va='center', fontsize=8.2, weight='bold')

fig.savefig('out.png', dpi=100)
